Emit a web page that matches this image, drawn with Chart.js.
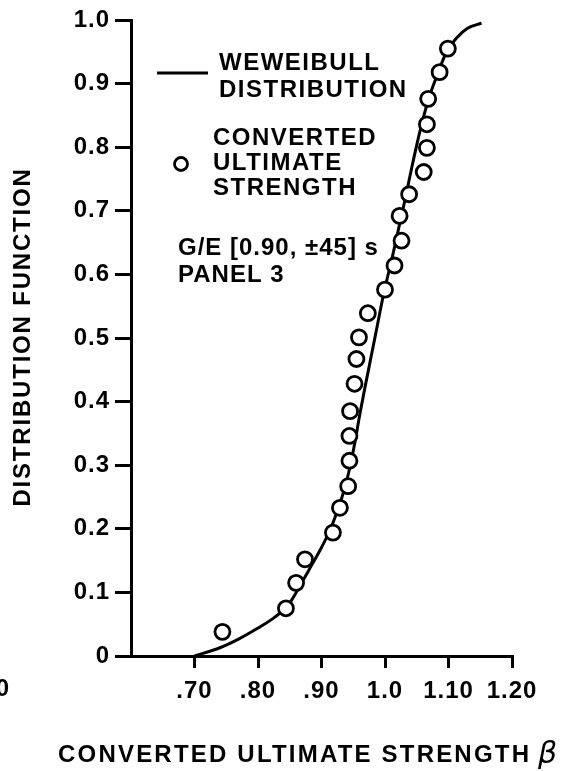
<!DOCTYPE html>
<html><head><meta charset="utf-8">
<script src="https://cdn.jsdelivr.net/npm/chart.js@4.4.1/dist/chart.umd.min.js"></script>
<style>html,body{margin:0;padding:0;background:#fff;overflow:hidden}</style>
</head><body>
<canvas id="c" width="565" height="771" style="display:block;width:565px;height:771px"></canvas>
<script>
// ---- data ----
const curveX = [0.700, 0.740, 0.770, 0.800, 0.825, 0.846, 0.862, 0.880, 0.897, 0.912, 0.925, 0.936, 0.945, 0.953, 0.960, 0.968, 0.976, 0.986, 0.998, 1.011, 1.021, 1.031, 1.043, 1.055, 1.069, 1.084, 1.097, 1.113, 1.130, 1.152];
const curveY = [0.000, 0.013, 0.027, 0.044, 0.060, 0.078, 0.103, 0.135, 0.165, 0.195, 0.228, 0.262, 0.298, 0.338, 0.378, 0.420, 0.460, 0.510, 0.570, 0.625, 0.670, 0.715, 0.772, 0.825, 0.877, 0.918, 0.950, 0.972, 0.987, 0.995];
const strengthX = [0.744, 0.844, 0.860, 0.874, 0.918, 0.929, 0.942, 0.944, 0.944, 0.945, 0.952, 0.955, 0.959, 0.973, 1.000, 1.015, 1.026, 1.023, 1.038, 1.061, 1.066, 1.066, 1.068, 1.086, 1.099];
const strengthF = [0.038, 0.075, 0.115, 0.152, 0.194, 0.233, 0.267, 0.307, 0.346, 0.385, 0.428, 0.467, 0.501, 0.539, 0.576, 0.614, 0.653, 0.692, 0.726, 0.761, 0.799, 0.836, 0.876, 0.918, 0.955];
const xTickValues = [0.70, 0.80, 0.90, 1.00, 1.10, 1.20];
const xTickLabels = ['.70', '.80', '.90', '1.0', '1.10', '1.20'];
const yTickValues = [0, 0.1, 0.2, 0.3, 0.4, 0.5, 0.6, 0.7, 0.8, 0.9, 1.0];
const yTickLabels = ['0', '0.1', '0.2', '0.3', '0.4', '0.5', '0.6', '0.7', '0.8', '0.9', '1.0'];
const legendCurveText = ['WEWEIBULL', 'DISTRIBUTION'];
const legendPointText = ['CONVERTED', 'ULTIMATE', 'STRENGTH'];
const noteText = ['G/E [0.90, \u00B145] s', 'PANEL 3'];
const xTitle = 'CONVERTED ULTIMATE STRENGTH';
const xTitleSymbol = '\u03B2';
const yTitle = 'DISTRIBUTION FUNCTION';
const strayLabel = '0';

// ---- styling ----
const FONT = '"Liberation Sans", Arial, Helvetica, sans-serif';
const INK = '#000';
const LW = 3;

function labelFor(values, labels, v) {
  for (let i = 0; i < values.length; i++) if (Math.abs(values[i] - v) < 1e-6) return labels[i];
  return '';
}

const textPlugin = {
  id: 'textPlugin',
  beforeDraw(chart) {
    const ctx = chart.ctx;
    ctx.letterSpacing = '1px';
    ctx.save();
    ctx.fillStyle = '#fff';
    ctx.fillRect(0, 0, chart.width, chart.height);
    ctx.restore();
  },
  afterDraw(chart) {
    const ctx = chart.ctx;
    ctx.save();
    ctx.fillStyle = INK;
    ctx.strokeStyle = INK;
    ctx.textAlign = 'left';
    ctx.textBaseline = 'alphabetic';
    ctx.font = 'bold 24px ' + FONT;
    ctx.letterSpacing = '1.5px';
    // legend: curve
    ctx.lineWidth = LW;
    ctx.beginPath(); ctx.moveTo(157, 73); ctx.lineTo(208, 73); ctx.stroke();
    ctx.fillText(legendCurveText[0], 219, 70);
    ctx.fillText(legendCurveText[1], 219, 97);
    // legend: points
    ctx.lineWidth = 2.8;
    ctx.beginPath(); ctx.arc(181, 164, 6.5, 0, Math.PI * 2); ctx.stroke();
    ctx.fillText(legendPointText[0], 213, 145);
    ctx.fillText(legendPointText[1], 213, 170);
    ctx.fillText(legendPointText[2], 213, 195);
    // note
    ctx.letterSpacing = '1px';
    ctx.fillText(noteText[0], 178, 255);
    ctx.fillText(noteText[1], 178, 282);
    // x title
    ctx.letterSpacing = '2.2px';
    ctx.fillText(xTitle, 58, 762);
    ctx.letterSpacing = '0px';
    ctx.font = 'italic 30px "DejaVu Sans", sans-serif';
    ctx.fillText(xTitleSymbol, 538, 763);
    // y title
    ctx.font = 'bold 24px ' + FONT;
    ctx.letterSpacing = '1.8px';
    ctx.save();
    ctx.translate(23, 337);
    ctx.rotate(-Math.PI / 2);
    ctx.textAlign = 'center';
    ctx.textBaseline = 'middle';
    ctx.fillText(yTitle, 0, 0);
    ctx.restore();
    // stray label at left edge
    ctx.letterSpacing = '0px';
    ctx.textAlign = 'right';
    ctx.textBaseline = 'middle';
    ctx.fillText(strayLabel, 9, 689);
    ctx.restore();
  }
};

new Chart(document.getElementById('c'), {
  type: 'scatter',
  data: {
    datasets: [
      {
        label: 'STRENGTH',
        data: strengthX.map((x, i) => ({ x: x, y: strengthF[i] })),
        pointRadius: 7.5,
        pointBorderWidth: 2.8,
        pointBorderColor: INK,
        pointBackgroundColor: '#fff',
        showLine: false,
        order: 0
      },
      {
        label: 'WEIBULL',
        type: 'line',
        data: curveX.map((x, i) => ({ x: x, y: curveY[i] })),
        borderColor: INK,
        borderWidth: LW,
        pointRadius: 0,
        fill: false,
        cubicInterpolationMode: 'monotone',
        order: 1
      }
    ]
  },
  options: {
    responsive: false,
    animation: false,
    devicePixelRatio: 1,
    layout: { padding: { top: 20, right: 53, left: 0, bottom: 0 } },
    plugins: { legend: { display: false }, tooltip: { enabled: false }, title: { display: false } },
    scales: {
      x: {
        type: 'linear', min: 0.6, max: 1.2,
        afterFit(s) { s.height = 115; },
        ticks: {
          stepSize: 0.1, autoSkip: false, maxRotation: 0, color: INK, padding: 9,
          font: { family: FONT, size: 24, weight: 'bold' },
          callback: v => labelFor(xTickValues, xTickLabels, v)
        },
        grid: {
          drawOnChartArea: false, drawTicks: true, tickLength: 12, lineWidth: LW,
          color: c => (c.tick && Math.abs(c.tick.value - 0.6) < 1e-6) ? 'rgba(0,0,0,0)' : INK
        },
        border: { display: true, color: INK, width: LW }
      },
      y: {
        type: 'linear', min: 0, max: 1,
        afterFit(s) { s.width = 131; },
        ticks: {
          stepSize: 0.1, autoSkip: false, color: INK, padding: 5,
          font: { family: FONT, size: 24, weight: 'bold' },
          callback: v => labelFor(yTickValues, yTickLabels, v)
        },
        grid: { drawOnChartArea: false, drawTicks: true, tickLength: 16, lineWidth: LW, color: INK },
        border: { display: true, color: INK, width: LW }
      }
    }
  },
  plugins: [textPlugin]
});
</script>
</body></html>
